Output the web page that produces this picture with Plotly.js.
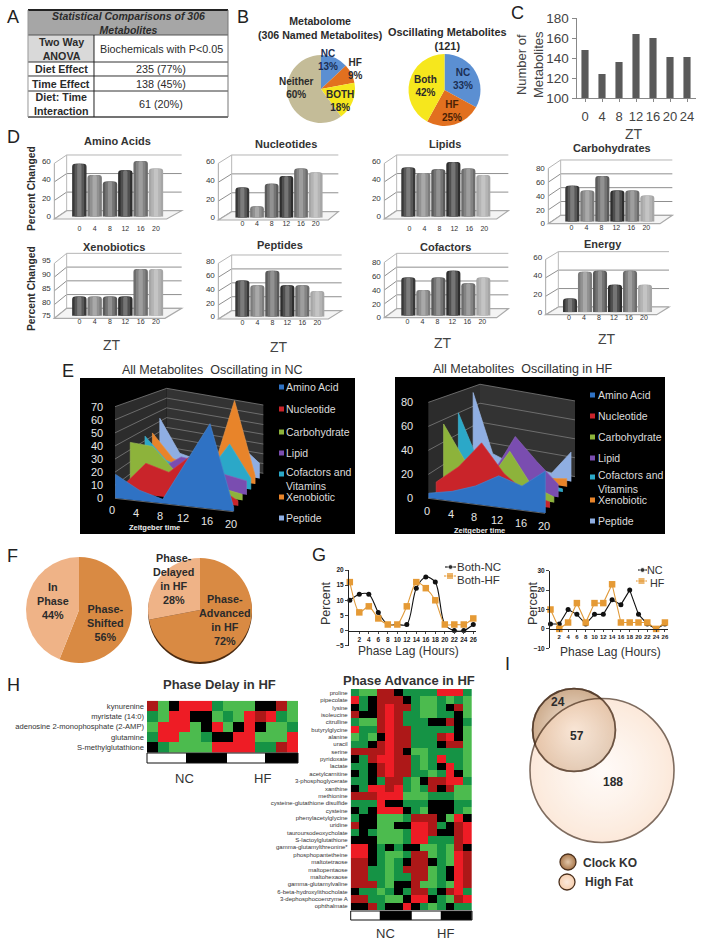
<!DOCTYPE html>
<html><head><meta charset="utf-8">
<script src="https://cdn.plot.ly/plotly-3.0.1.min.js"></script>
<style>html,body{margin:0;padding:0;background:#fff}</style></head>
<body><div id="chart" style="width:701px;height:945px"></div>
<script>
// ===== DATA =====
const tableHeader = "Statistical Comparisons of 306<br>Metabolites";
const tableLabels = ["Two Way<br>ANOVA","Diet Effect","Time Effect","Diet: Time<br>Interaction"];
const tableValues = ["Biochemicals with P&lt;0.05","235 (77%)","138 (45%)","61 (20%)"];

const pieAValues = [13,9,18,60];
const pieBValues = [33,25,42];
const ztC = ["0","4","8","12","16","20","24"];
const metabolitesC = [148,124,136,164,160,141,141];

const ztD = ["0","4","8","12","16","20"];
const aminoAcids   = [57,45,38,50,60,52];
const nucleotides  = [32,12,36,44,52,48];
const lipids       = [53,47,51,59,52,45];
const carbohydrates= [52,45,66,45,45,38];
const xenobiotics  = [82,82,82,82,92,92];
const peptides     = [52,45,66,45,45,37];
const cofactors    = [55,37,55,65,47,55];
const energy       = [15,44,45,30,45,30];
const barGreys = ["#383838","#7c7c7c","#5a5a5a","#2e2e2e","#6c6c6c","#a6a6a6"];

const seriesE = ["Amino Acid","Nucleotide","Carbohydrate","Lipid","Cofactors and<br>Vitamins","Xenobiotic","Peptide"];
const coloursE = ["#2F72C4","#C9242A","#8DB33B","#7A4DB0","#2BA8C8","#E8842A","#8FAEE2"];
const ztE = [0,4,8,12,16,20];
const ncAreas = [
 [18,8,3,34,65,3],
 [5,25,20,36,14,4],
 [36,35,17,10,8,5],
 [10,12,25,23,15,12],
 [34,15,10,10,38,10],
 [33,12,8,10,75,8],
 [43,12,8,10,30,15]];
const hfAreas = [
 [4,8,15,26,20,35],
 [9,25,48,24,10,5],
 [56,25,10,40,12,5],
 [15,12,15,50,30,12],
 [60,15,8,8,5,3],
 [5,5,5,5,5,8],
 [74,15,8,8,5,30]];

const pieFValues = [56,44];
const pieF2Values = [72,28];

const lagHours = [0,2,4,6,8,10,12,14,16,18,20,22,24,26];
const bothNC = [10,12,12,6,2,2,2,14,17.7,16,2,0,0,2];
const bothHF = [16,6,8,4,2,2,8,16,14,10,2,2,2,4];
const onlyNC = [2.5,2.5,10,7.5,2.5,7.5,7.5,15,12.5,20,7.5,2.5,0,2.5];
const onlyHF = [10,0,3.3,13.3,3.3,13.3,13.3,23,3.3,3.3,3.3,3.3,0,3.3];

const levels = {R:1, r:0.55, K:0, g:-0.5, G:-1};
const delayNames = ["kynurenine","myristate (14:0)","adenosine 2-monophosphate (2-AMP)","glutamine","S-methylglutathione"];
const delayRows = ["rGKRRRgGGGKKrG","gGRRKKGgGRrRgG","GRRRGKRGKRKGGg","gRRGGgKKRRGGGR","KgGGGGRRRRggrR"];
const advanceNames = ["proline","pipecolate","lysine","isoleucine","citrulline","butyrylglycine","alanine","uracil","serine","pyridoxate","lactate","acetylcarnitine","3-phosphoglycerate","xanthine","methionine","cysteine-glutathione disulfide","cysteine","phenylacetylglycine","uridine","tauroursodeoxycholate","S-lactoylglutathione","gamma-glutamylthreonine*","phosphopantetheine","maltotetraose","maltopentaose","maltohexaose","gamma-glutamylvaline","6-beta-hydroxylithocholate","3-dephosphocoenzyme A","ophthalmate"];
const advanceRows = ["gGGrrKggggRRRg","RgKrrrKgGGgGgG","KgKrRrrgGGgKrG","rKKrRrggGGggKG","gGGrRrgggKKrKg","RggrRrrgggggKG","GgGKRrrgggrRKG","ggKrRrrgggKrrG","rrrrRrKGGggggG","KgrRRrrgGgRggG","ggKrRrrgGgKRgG","KgKrRrrggGgRKG","ggKgrrgGKrrRRg","KgRRrRgGgrKrGG","rrrRRRGGGgggGG","gggRKKgggKKKgg","KgKRRRKgGKKKgG","gKKGGGgrrrKGRK","rKKGGKKRRrgKrR","gKgGGGgRRrKKrR","KKKGGGgRRgggrR","RRKgKgKKGGgGrK","RRKgGGgrrGgGRr","rrKgGgKrrKgGRr","rrggGgrrrGgKRr","rrggGggrrGgKRr","rrrgGKKrGGgGRr","KggGgKgrrgKrRg","rrggGGKRRKgGrR","KKrgKKRKgGgKgg"];
const delayStripEdges = [0,110,227,337,430];
const advanceStripEdges = [0,88,184,270,364];
const stripLight = [1,0,1,0];

const vennClockOnly = 24, vennShared = 57, vennHFOnly = 188;

// ===== HELPERS =====
const W = 701, H = 945, FONT = "Liberation Sans, Arial, sans-serif";
const X = p => p / W, Y = p => 1 - p / H;
const data = [], shapes = [], annotations = [];
const layout = {width:W, height:H, margin:{l:0,r:0,t:0,b:0,pad:0}, autosize:false,
  paper_bgcolor:"#fff", plot_bgcolor:"rgba(0,0,0,0)", barmode:"overlay", showlegend:false,
  font:{family:FONT,color:"#333"}, shapes, annotations};
let axisN = 0;
function axes(xa, ya){
  axisN++;
  const s = axisN === 1 ? "" : String(axisN);
  layout["xaxis"+s] = Object.assign({anchor:"y"+s, showgrid:false, zeroline:false, fixedrange:true}, xa);
  layout["yaxis"+s] = Object.assign({anchor:"x"+s, showgrid:false, zeroline:false, fixedrange:true}, ya);
  return {xaxis:"x"+s, yaxis:"y"+s};
}
function note(x,y,text,size,o){
  o = o || {};
  annotations.push({xref:"paper",yref:"paper",x:X(x),y:Y(y),text,showarrow:false,
    xanchor:o.anchor||"center",yanchor:"middle",textangle:o.angle||0,
    font:{family:FONT,size,color:o.color||"#2b2b2b"}, align:o.align||"center"});
}
function rect(x0,y0,x1,y1,fill,lineC,lw,layer){
  shapes.push({type:"rect",xref:"paper",yref:"paper",x0:X(x0),x1:X(x1),y0:Y(y0),y1:Y(y1),
    fillcolor:fill||"rgba(0,0,0,0)",line:{color:lineC||"rgba(0,0,0,0)",width:lw===undefined?0:lw},layer:layer||"below"});
}
function seg(pts,color,w,fill,layer){
  const d = pts.map((p,i)=>(i?"L":"M")+X(p[0]).toFixed(5)+" "+Y(p[1]).toFixed(5)).join(" ")+(fill?" Z":"");
  shapes.push({type:"path",xref:"paper",yref:"paper",path:d,line:{color:color||"rgba(0,0,0,0)",width:w===undefined?1:w},
    fillcolor:fill||"rgba(0,0,0,0)",layer:layer||"below"});
}
function pie(cx,cy,r,values,colors,lineC){
  data.push({type:"pie",values,sort:false,direction:"clockwise",rotation:0,textinfo:"none",hoverinfo:"skip",showlegend:false,
    domain:{x:[X(cx-r),X(cx+r)],y:[Y(cy+r),Y(cy-r)]},marker:{colors,line:{width:lineC?1:0,color:lineC||"#fff"}}});
}
function lighten(hex,f){
  const n = parseInt(hex.slice(1),16), c=[n>>16,(n>>8)&255,n&255].map(v=>Math.round(v+(255-v)*f));
  return "rgb("+c.join(",")+")";
}

// ===== A: table =====
rect(28,10,228,35,"#A6A6A6");
rect(28,35,94,62,"#D9D9D9");
[[28,10,228,10,2,"#222"],[28,35,228,35,1,"#555"],[28,62,228,62,1,"#333"],[28,76,228,76,1,"#333"],[28,91,228,91,1,"#333"],[28,117,228,117,1.5,"#444"],[94,35,94,117,1,"#222"],[228,10,228,117,1,"#777"],[28,10,28,117,1,"#999"]]
  .forEach(l=>seg([[l[0],l[1]],[l[2],l[3]]],l[5],l[4]));
note(128,23,"<b><i>"+tableHeader+"</i></b>",10.5);
const rowY=[49,69,84,104];
tableLabels.forEach((t,i)=>note(61,rowY[i],"<b>"+t+"</b>",10.7));
tableValues.forEach((t,i)=>note(161,rowY[i],t,10.8));

// ===== B: pies =====
const BLUE="#5B8FD2",ORG="#E2701F",YEL="#F6E71D",TAN="#C4BC98";
pie(321,89,34,pieAValues,[BLUE,ORG,YEL,TAN]);
pie(444.5,90,36,pieBValues,[BLUE,ORG,YEL]);
note(320,28,"<b>Metabolome<br>(306 Named Metabolites)</b>",10.6);
note(447,39,"<b>Oscillating Metabolites<br>(121)</b>",10.9);
note(328,60,"<b>NC<br>13%</b>",10,{color:"#1c2f55"});
note(355,69,"<b>HF<br>9%</b>",10);
note(340,101,"<b>BOTH<br>18%</b>",10);
note(296,88,"<b>Neither<br>60%</b>",10);
note(463,79,"<b>NC<br>33%</b>",10,{color:"#1c2f55"});
note(452,111,"<b>HF<br>25%</b>",10,{color:"#4a2206"});
note(425,86,"<b>Both<br>42%</b>",10);

// ===== C: bars =====
let a = axes({domain:[X(576.5),X(695.5)],type:"category",range:[-0.5,6.5],showline:true,linecolor:"#888",ticks:"outside",ticklen:3,tickcolor:"#888",tickangle:0,tickfont:{size:13,color:"#444"},ticklabelstandoff:3},
             {domain:[Y(98),Y(18)],range:[100,180],tickvals:[100,120,140,160,180],showline:true,linecolor:"#888",ticks:"outside",ticklen:4,tickcolor:"#888",tickfont:{size:13.5,color:"#444"}});
data.push(Object.assign({type:"bar",x:ztC,y:metabolitesC,width:0.42,marker:{color:"#5a5a5a"},hoverinfo:"skip",showlegend:false},a));
note(530,65,"Number of<br>Metabolites",13,{angle:-90,color:"#444"});
note(634,134,"ZT",14,{color:"#444"});

// ===== D: pseudo-3D bars =====
const dPanels = [
 {title:"Amino Acids",v:aminoAcids,ox:0,ticks:[0,20,40,60],axis:163,right:500,wallL:200,wallR:545,y0:282,yT:115,base:275,wallT:90,c0:238,cs:46,tx:117,ty:141,lx:3.5,ly:305},
 {title:"Nucleotides",v:nucleotides,ox:0,ticks:[0,20,40,60],axis:655,right:985,wallL:695,wallR:1015,y0:285,yT:115,base:278,wallT:90,c0:727,cs:44,tx:286,ty:144,lx:0,ly:312},
 {title:"Lipids",v:lipids,ox:350,ticks:[0,20,40,60],axis:103,right:440,wallL:140,wallR:475,y0:282,yT:115,base:275,wallT:90,c0:175,cs:45,tx:445,ty:144,lx:1,ly:305},
 {title:"Carbohydrates",v:carbohydrates,ox:350,ticks:[0,20,40,60,80],axis:595,right:930,wallL:632,wallR:967,y0:296,yT:130,base:290,wallT:105,c0:667,cs:45,tx:612,ty:148,lx:-1,ly:315},
 {title:"Xenobiotics",v:xenobiotics,ox:0,ticks:[75,80,85,90,95],axis:163,right:495,wallL:200,wallR:545,y0:580,yT:415,base:572,wallT:385,c0:238,cs:46,tx:114,ty:247,lx:1.5,ly:612},
 {title:"Peptides",v:peptides,ox:0,ticks:[0,20,40,60,80],axis:655,right:985,wallL:695,wallR:1025,y0:582,yT:415,base:575,wallT:390,c0:727,cs:45,tx:280,ty:245,lx:0,ly:618},
 {title:"Cofactors",v:cofactors,ox:350,ticks:[0,20,40,60,80],axis:103,right:440,wallL:140,wallR:475,y0:578,yT:412,base:572,wallT:385,c0:175,cs:45,tx:445,ty:247,lx:-1,ly:612},
 {title:"Energy",v:energy,ox:350,ticks:[0,20,40,60],axis:587,right:920,wallL:625,wallR:957,y0:569,yT:403,base:562,wallT:380,c0:660,cs:45,tx:603,ty:244,lx:-1,ly:600}
];
dPanels.forEach(p=>{
  const px = z => p.ox + z/3, py = z => 125 + z/3;
  const n = p.ticks.length, tMin = p.ticks[0], tMax = p.ticks[n-1];
  const unit = (p.y0 - p.yT)/(tMax - tMin)/3;
  const dx = px(p.wallL)-px(p.axis), dy = (p.yT-p.wallT)/3;
  const baseY = py(p.base), topY = baseY - (tMax-tMin)*unit;
  p.ticks.forEach(t=>{
    const y = py(p.y0) - (t-tMin)*unit;
    seg([[px(p.axis),y],[px(p.axis)+dx,y-dy],[px(p.wallR),y-dy]],t===tMax?"#b5b5b5":"#8f8f8f",1);
  });
  seg([[px(p.axis),py(p.y0)],[px(p.axis),py(p.yT)]],"#a8a8a8",1);
  seg([[px(p.wallL),py(p.y0)-dy],[px(p.wallL),py(p.yT)-dy]],"#b8b8b8",1);
  seg([[px(p.axis),py(p.y0)],[px(p.axis)+dx,py(p.y0)-dy],[px(p.wallR),py(p.y0)-dy],[px(p.right),py(p.y0)]],"#aaa",1.2,"#f4f4f4");
  const s = p.cs/3;
  const ax = axes({domain:[X(px(p.c0)-s/2),X(px(p.c0)+5.5*s)],type:"category",range:[-0.5,5.5],tickfont:{size:7,color:"#333"},ticklen:0,ticks:"",tickangle:0,
                   ticklabelstandoff:Math.max(0,py(p.ly)-baseY-4),ticklabelshift:p.lx},
                  {domain:[Y(baseY),Y(topY)],range:[tMin,tMax],tickvals:p.ticks,anchor:"free",position:X(px(p.axis)-3.5),tickfont:{size:8,color:"#333"},
                   ticklen:0,ticks:"",ticklabelshift:(p.y0-p.base)/3});
  [[0.94,0],[0.62,0.16],[0.28,0.34]].forEach(b=>{
    data.push(Object.assign({type:"bar",x:ztD,y:p.v,width:b[0],hoverinfo:"skip",showlegend:false,
      marker:{color:barGreys.map(c=>lighten(c,b[1])),cornerradius:b[1]===0?3:2}},ax));
  });
  note(p.tx,p.ty,"<b>"+p.title+"</b>",11,{color:"#333"});
});
note(32,189,"<b>Percent Changed</b>",10.3,{angle:-90});
note(32,289,"<b>Percent Changed</b>",10.3,{angle:-90});
note(112,345,"ZT",14,{color:"#444"});note(279,347,"ZT",14,{color:"#444"});
note(443,343,"ZT",14,{color:"#444"});note(607,339,"ZT",14,{color:"#444"});

// ===== E: projected area charts =====
const eSets = [
 {areas:ncAreas,ox:50,FL:[195,460],FR:[550,500],BL:[350,335],BR:[640,385],hf:275/70,hb:205/70,ticks:[0,10,20,30,40,50,60,70],max:70,tx:165,rect:[80,378,355,534],title:"All Metabolites  Oscillating in NC",titleX:212,titleY:370,
  lx:284,sx:281,ly:[387,409,432,453,479,497,518],sy:[387,409,432,453,474,497,518],ztX:154,ztY:527,lab:[-2.7,12]},
 {areas:hfAreas,ox:360,FL:[205,460],FR:[555,505],BL:[360,345],BR:[645,395],hf:3.6,hb:2.84,ticks:[0,20,40,60,80],max:80,tx:165,rect:[395,377,665,534],title:"All Metabolites  Oscillating in HF",titleX:523,titleY:369,
  lx:596,sx:592,ly:[395,416,437,458,482,500,521],sy:[395,416,437,458,477,500,521],ztX:479,ztY:530,lab:[-1,12.7]}
];
const mix=(a,b,f)=>[a[0]+(b[0]-a[0])*f,a[1]+(b[1]-a[1])*f];
const eTraces=[];
eSets.forEach(e=>{
  const oy=345;
  const P=(t,d,v)=>{
    const fl=mix(e.FL,e.BL,d), fr=mix(e.FR,e.BR,d), f=mix(fl,fr,t), h=(e.hf+(e.hb-e.hf)*d)*v;
    return [e.ox+f[0]/3, oy+(f[1]-h)/3];
  };
  rect(e.rect[0],e.rect[1],e.rect[2],e.rect[3],"#000");
  seg([P(0,0,0),P(0,1,0),P(0,1,e.max),P(0,0,e.max)],null,0,"#2c2c2c");
  seg([P(0,1,0),P(1,1,0),P(1,1,e.max),P(0,1,e.max)],null,0,"#333333");
  e.ticks.forEach(v=>{
    seg([P(0,0,v),P(0,1,v),P(1,1,v)],"#7c7c7c",0.8);
    const q=P(0,0,v);
    note(e.ox+e.tx/3,q[1],String(v),11,{anchor:"right",color:"#e6e6e6"});
  });
  seg([P(0,0,0),P(1,0,0)],"#666",1);
  ztE.forEach((z,i)=>{
    const q=P(i/5,0,0);
    note(q[0]+e.lab[0],q[1]+e.lab[1],String(z),11,{color:"#e6e6e6"});
  });
  for(let i=e.areas.length-1;i>=0;i--){
    const d=i/7+0.01, vals=e.areas[i];
    const pts=[P(0,d,0)].concat(vals.map((v,k)=>P(k/5,d,v)),[P(1,d,0)]);
    eTraces.push({type:"scatter",mode:"lines",x:pts.map(p=>p[0]),y:pts.map(p=>p[1]),fill:"toself",fillcolor:coloursE[i],
      line:{color:lighten(coloursE[i],0.12),width:0.7},hoverinfo:"skip",showlegend:false});
  }
  note(e.titleX,e.titleY,e.title,12.5,{color:"#333"});
  note(e.ztX,e.ztY,"<b>Zeitgeber time</b>",7.5,{color:"#eee"});
  seriesE.forEach((s,i)=>{
    note(e.lx,e.ly[i],s,10.5,{anchor:"left",align:"left",color:"#dcdcdc"});
    rect(e.sx-2,e.sy[i]-2.5,e.sx+3,e.sy[i]+2.5,coloursE[i],null,0,"above");
  });
});

// ===== F: pies =====
const PEACH="#EFB387",DEEP="#D98A43";
pie(79,610,53,pieFValues,[DEEP,PEACH]);
shapes.push({type:"circle",xref:"paper",yref:"paper",x0:X(148),x1:X(252),y0:Y(664),y1:Y(560),fillcolor:"#4a2a10",line:{width:0},layer:"below"});
pie(200,610,52,pieF2Values,[DEEP,PEACH]);
note(53,601,"<b>In<br>Phase<br>44%</b>",10.8);
note(105,623,"<b>Phase-<br>Shifted<br>56%</b>",10.8);
note(173,579,"<b>Phase-<br>Delayed<br>in HF<br>28%</b>",10.8);
note(225,620,"<b>Phase-<br>Advanced<br>in HF<br>72%</b>",10.8);

// ===== G: lines =====
const gTick={size:6.5,weight:"bold",color:"#222"};
a = axes({domain:[X(349),X(476)],range:[-0.17,26.57],anchor:"free",position:Y(630.7),tickvals:lagHours.slice(1),tickangle:0,showline:true,linecolor:"#222",ticks:"outside",ticklen:2,tickfont:gTick},
         {domain:[Y(645.7),Y(570)],range:[-5,20],tickvals:[-5,0,5,10,15,20],showline:true,linecolor:"#222",ticks:"outside",ticklen:3,tickfont:gTick});
data.push(Object.assign({type:"scatter",mode:"lines+markers",name:"Both-NC",x:lagHours,y:bothNC,line:{color:"#111",width:1.1,shape:"spline",smoothing:0.9},marker:{color:"#111",size:5},hoverinfo:"skip",cliponaxis:false},a));
data.push(Object.assign({type:"scatter",mode:"lines+markers",name:"Both-HF",x:lagHours,y:bothHF,line:{color:"#E09A3A",width:1.1,shape:"spline",smoothing:0.7},marker:{color:"#E59A35",size:6.5,symbol:"square"},hoverinfo:"skip",cliponaxis:false},a));
a = axes({domain:[X(550),X(668)],range:[-0.11,26.7],anchor:"free",position:Y(628.7),tickvals:lagHours.slice(1),tickangle:0,showline:true,linecolor:"#222",ticks:"outside",ticklen:2,tickfont:{size:6,weight:"bold",color:"#222"}},
         {domain:[Y(648.3),Y(570.7)],range:[-10,30],tickvals:[-10,0,10,20,30],showline:true,linecolor:"#222",ticks:"outside",ticklen:3,tickfont:gTick});
data.push(Object.assign({type:"scatter",mode:"lines+markers",name:"NC",x:lagHours,y:onlyNC,line:{color:"#111",width:1.1},marker:{color:"#111",size:5},hoverinfo:"skip",cliponaxis:false},a));
data.push(Object.assign({type:"scatter",mode:"lines+markers",name:"HF",x:lagHours,y:onlyHF,line:{color:"#E09A3A",width:1.1},marker:{color:"#E59A35",size:6.5,symbol:"square"},hoverinfo:"skip",cliponaxis:false},a));
note(326,603,"Percent",12.5,{angle:-90,color:"#333"});
note(533,603,"Percent",12.5,{angle:-90,color:"#333"});
note(409,651,"Phase Lag (Hours)",12,{color:"#333"});
note(610,652,"Phase Lag (Hours)",12,{color:"#333"});
note(479,567,"Both-NC",11.5,{color:"#333"});
note(478,580,"Both-HF",11.5,{color:"#333"});
note(655,569.5,"NC",10.8,{color:"#333"});
note(657,583,"HF",10.8,{color:"#333"});

// ===== H: heatmaps =====
const heatScale=[[0,"#4CBB4E"],[0.25,"#159345"],[0.5,"#000000"],[0.775,"#AD1818"],[1,"#EE1C25"]];
const stripScale=[[0,"#000000"],[1,"#ffffff"]];
function heat(names,rows,edges,box,stripTop,stripBot,fs){
  const z=rows.map(r=>r.split("").map(c=>levels[c]));
  const cols=z[0].map((_,i)=>i);
  const ax=axes({domain:[X(box[0]),X(box[1])],range:[-0.5,13.5],visible:false},
    {domain:[Y(box[3]),Y(box[2])],type:"category",range:[names.length-0.5,-0.5],tickmode:"array",tickvals:names,ticktext:names,ticks:"",ticklen:0,tickfont:{size:fs,color:"#333"},ticklabelstandoff:2});
  data.push(Object.assign({type:"heatmap",x:cols,y:names,z,colorscale:heatScale,zmin:-1,zmax:1,showscale:false,hoverinfo:"skip",xgap:0,ygap:0},ax));
  const ax2=axes({domain:[X(box[0]),X(box[1])],range:[edges[0],edges[edges.length-1]],visible:false},
    {domain:[Y(stripBot),Y(stripTop)],range:[0,1],visible:false});
  data.push(Object.assign({type:"heatmap",x:edges,y:[0,1],z:[stripLight],colorscale:stripScale,zmin:0,zmax:1,showscale:false,hoverinfo:"skip"},ax2));
  rect(box[0],stripTop,box[1],stripBot,null,"#111",1,"above");
}
heat(delayNames,delayRows,delayStripEdges,[147,298,700.7,752.7],753,763,7.6);
heat(advanceNames,advanceRows,advanceStripEdges,[350.7,472,689,910],911,920,6);
note(220,684,"<b>Phase Delay in HF</b>",13,{color:"#333"});
note(409,680,"<b>Phase Advance in HF</b>",13,{color:"#333"});
note(184,778,"NC",13,{color:"#333"});note(262,778,"HF",13,{color:"#333"});
note(385,933,"NC",13,{color:"#333"});note(445,933,"HF",13,{color:"#333"});

// ===== Overlay axes in page pixels =====
const ov=axes({domain:[0,1],range:[0,W],visible:false},{domain:[0,1],range:[H,0],visible:false});
eTraces.forEach(t=>data.push(Object.assign(t,ov)));

// legend samples for G
const sample=(x0,x1,y,col,sym,size)=>data.push(Object.assign({type:"scatter",mode:"lines+markers",x:[x0,(x0+x1)/2,x1],y:[y,y,y],hoverinfo:"skip",showlegend:false,
   line:{color:col,width:1.1},marker:{color:col,size:[0,size,0],symbol:sym}},ov));
sample(445,456,567,"#111","circle",5);
sample(444,456,576,"#E59A35","square",7);
sample(638,647,570,"#111","circle",5);
sample(636,647,581,"#E59A35","square",7);

// ===== I: Venn (areas from counts) =====
const clockTotal=vennClockOnly+vennShared, hfTotal=vennShared+vennHFOnly;
const sizeref=hfTotal/2/(72*72);
const bubble=(x,y,size,marker)=>data.push(Object.assign({type:"scatter",mode:"markers",x:[x],y:[y],hoverinfo:"skip",showlegend:false,
   marker:Object.assign({size:[size],sizemode:"area",sizeref},marker)},ov));
const EDGE="#4a2f1c";
bubble(574,730,clockTotal,{color:"#B98A5E",gradient:{type:"radial",color:"#F3E3D3"},line:{color:EDGE,width:1.6}});
bubble(602,770.5,hfTotal,{color:"rgba(250,216,190,0.8)",gradient:{type:"radial",color:"rgba(255,246,240,0.62)"},line:{color:EDGE,width:1.6}});
bubble(574,730,clockTotal,{color:"rgba(0,0,0,0)",line:{color:EDGE,width:1.8}});
data.push(Object.assign({type:"scatter",mode:"markers",x:[568],y:[862],hoverinfo:"skip",showlegend:false,marker:{size:16,color:"#A9784C",gradient:{type:"radial",color:"#E2C6A8"},line:{color:EDGE,width:1.3}}},ov));
data.push(Object.assign({type:"scatter",mode:"markers",x:[567],y:[882],hoverinfo:"skip",showlegend:false,marker:{size:16,color:"#F7CFAE",gradient:{type:"radial",color:"#FBE9DC"},line:{color:EDGE,width:1.3}}},ov));
note(558,702,"<b>"+vennClockOnly+"</b>",12);
note(577,736,"<b>"+vennShared+"</b>",12);
note(613,782,"<b>"+vennHFOnly+"</b>",12);
note(610,863,"<b>Clock KO</b>",12,{color:"#333"});
note(609,882,"<b>High Fat</b>",12,{color:"#333"});

// ===== Panel letters =====
[["A",13,17],["B",243,17],["C",517,13],["D",13,137],["E",68,371],["F",12,556],["G",319,555],["H",13,685],["I",507,664]]
  .forEach(l=>note(l[1],l[2],l[0],18,{color:"#222"}));

Plotly.newPlot("chart",data,layout,{staticPlot:true,displayModeBar:false});
</script></body></html>
